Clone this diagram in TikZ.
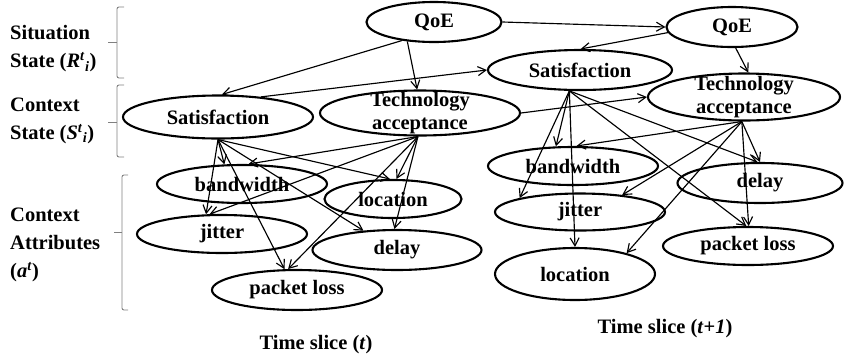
\documentclass[tikz,border=0pt]{standalone}
\usepackage{fontspec}
\setmainfont{Liberation Serif}
\usetikzlibrary{shapes.geometric,arrows.meta}
\begin{document}
\begin{tikzpicture}[x=1pt,y=-1pt,
  ell/.style={ellipse,draw,line width=2.1pt,inner sep=0pt},
  txt/.style={font=\fontsize{20.5}{23}\selectfont\bfseries,align=center,inner sep=0pt},
  lab/.style={font=\fontsize{20.5}{28}\selectfont\bfseries,align=left,inner sep=0pt,anchor=west},
  edge/.style={line width=1.15pt,-{Straight Barb[length=8pt,width=9pt]}},
  brc/.style={draw=gray,line width=0.9pt,rounded corners=2pt}]
\useasboundingbox (0,0) rectangle (844,360);

% left labels
\node[lab] (lsit) at (10,49) {Situation\\State (\textit{R}\textsuperscript{\textit{t}}\textsubscript{\textit{i}})};
\node[lab] (lctx) at (10,121) {Context\\State (\textit{S}\textsuperscript{\textit{t}}\textsubscript{\textit{i}})};
\node[lab] (latt) at (10,245) {Context\\Attributes\\(\textit{a}\textsuperscript{\textit{t}})};

% braces
\draw[brc] (124,7) -- (117,7) -- (117,78) -- (124,78);
\draw[brc] (117,42) -- (108,42);
\draw[brc] (124,85) -- (117,85) -- (117,157) -- (124,157);
\draw[brc] (117,122) -- (108,122);
\draw[brc] (128,175) -- (122,175) -- (122,310) -- (128,310);
\draw[brc] (122,232) -- (114,232);

% time slice t
\node[ell,minimum width=135,minimum height=40,label={[txt]center:QoE}] (qoe1) at (434,22) {};
\node[ell,minimum width=190,minimum height=43,label={[txt]center:Satisfaction}] (sat1) at (218,117) {};
\node[ell,minimum width=200,minimum height=45,label={[txt]center:{Technology\\acceptance}}] (ta1) at (420,113) {};
\node[ell,minimum width=170,minimum height=38,label={[txt]center:bandwidth}] (bw1) at (242,184) {};
\node[ell,minimum width=137,minimum height=38,label={[txt]center:location}] (loc1) at (393,199) {};
\node[ell,minimum width=170,minimum height=38,label={[txt]center:jitter}] (jit1) at (222,234) {};
\node[ell,minimum width=169,minimum height=40,label={[txt]center:delay}] (del1) at (397,250) {};
\node[ell,minimum width=170,minimum height=40,label={[txt]center:packet loss}] (pl1) at (297,290) {};
\node[txt] (ts1) at (316,345) {Time slice (\textit{t})};

% time slice t+1
\node[ell,minimum width=131,minimum height=40,label={[txt]center:QoE}] (qoe2) at (732,27) {};
\node[ell,minimum width=184,minimum height=40,label={[txt]center:Satisfaction}] (sat2) at (580,70) {};
\node[ell,minimum width=192,minimum height=47,label={[txt]center:{Technology\\acceptance}}] (ta2) at (744,97) {};
\node[ell,minimum width=170,minimum height=38,label={[txt]center:bandwidth}] (bw2) at (573,166) {};
\node[ell,minimum width=170,minimum height=37,label={[txt]center:jitter}] (jit2) at (580,212) {};
\node[ell,minimum width=160,minimum height=52,label={[txt]center:location}] (loc2) at (575,274) {};
\node[ell,minimum width=165,minimum height=40,label={[txt]center:delay}] (del2) at (760,183) {};
\node[ell,minimum width=170,minimum height=38,label={[txt]center:packet loss}] (pl2) at (748,246) {};
\node[txt] (ts2) at (665,329) {Time slice (\textit{t}+\textit{1})};

% edges slice t
\draw[edge] (qoe1.210) -- (sat1.80);
\draw[edge] (qoe1.216) -- (ta1.97);
\draw[edge] (sat1.south) -- (bw1.132);
\draw[edge] (sat1.south) -- (jit1.129);
\draw[edge] (sat1.south) -- (pl1.121);
\draw[edge] (sat1.south) -- (loc1.99);
\draw[edge] (sat1.south) -- (del1.150);
\draw[edge] (ta1.265) -- (bw1.72);
\draw[edge] (ta1.265) -- (jit1.122);
\draw[edge] (ta1.265) -- (loc1.80);
\draw[edge] (ta1.265) -- (del1.97);
\draw[edge] (ta1.265) -- (pl1.113);

% inter-slice
\draw[edge] (qoe1.east) -- (qoe2.180);
\draw[edge] (sat1.25) -- (sat2.west);
\draw[edge] (ta1.east) -- (ta2.west);

% edges slice t+1
\draw[edge] (qoe2.185) -- (sat2.88);
\draw[edge] (qoe2.280) -- (ta2.80);
\draw[edge] (sat2.243) -- (bw2.131);
\draw[edge] (sat2.243) -- (jit2.167);
\draw[edge] (sat2.243) -- (loc2.north);
\draw[edge] (sat2.243) -- (del2.97);
\draw[edge] (sat2.243) -- (pl2.95);
\draw[edge] (ta2.265) -- (bw2.80);
\draw[edge] (ta2.265) -- (jit2.22);
\draw[edge] (ta2.265) -- (loc2.22);
\draw[edge] (ta2.265) -- (del2.90);
\draw[edge] (ta2.265) -- (pl2.88);
\end{tikzpicture}
\end{document}
